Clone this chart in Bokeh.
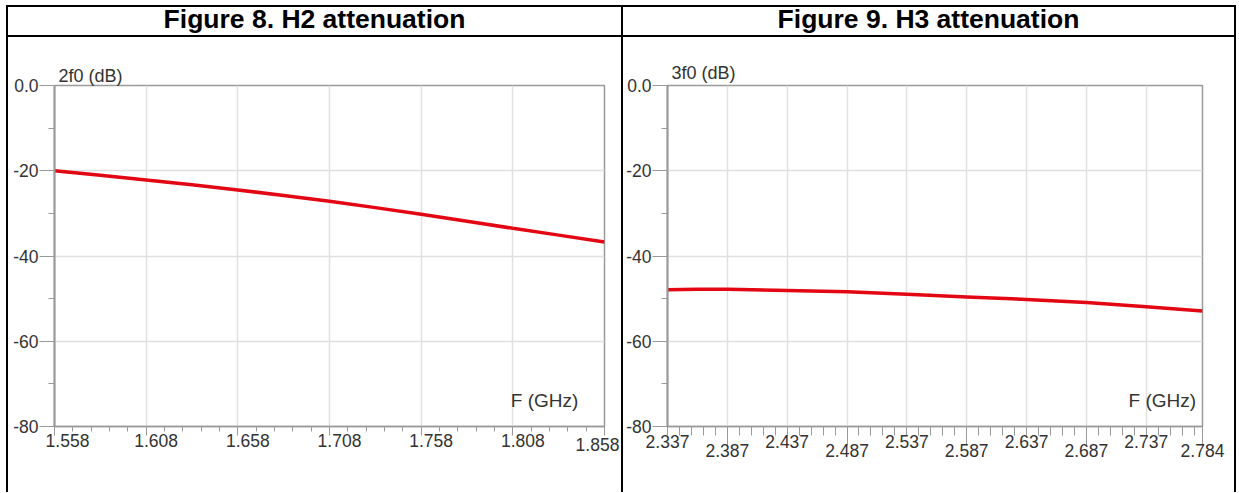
from bokeh.plotting import figure
from bokeh.models import FixedTicker, LinearAxis, Label, Div
from bokeh.layouts import row, column
from bokeh.embed import file_html
from bokeh.resources import INLINE

# ---------------- data ----------------
h2_freq = [1.558, 1.583, 1.608, 1.633, 1.658, 1.683, 1.708, 1.733, 1.758, 1.783, 1.808, 1.833, 1.858]
h2_db = [-20.0, -21.05, -22.15, -23.3, -24.5, -25.8, -27.15, -28.65, -30.2, -31.85, -33.5, -35.1, -36.7]

h3_freq = [2.337, 2.362, 2.387, 2.437, 2.487, 2.537, 2.587, 2.637, 2.687, 2.737, 2.784]
h3_db = [-47.9, -47.8, -47.8, -48.1, -48.4, -49.0, -49.6, -50.2, -50.9, -51.9, -52.9]

h2_ticks = [1.558, 1.608, 1.658, 1.708, 1.758, 1.808, 1.858]
h2_labels = ["1.558", "1.608", "1.658", "1.708", "1.758", "1.808", "1.858"]

h3_ticks = [2.337, 2.387, 2.437, 2.487, 2.537, 2.587, 2.637, 2.687, 2.737, 2.784]
h3_labels = ["2.337", "2.387", "2.437", "2.487", "2.537", "2.587", "2.637", "2.687", "2.737", "2.784"]
h3_low = [2.387, 2.487, 2.587, 2.687, 2.784]

y_ticks = [-80, -60, -40, -20, 0]
y_minor = [-70, -50, -30, -10]
y_labels = ["-80", "-60", "-40", "-20", "0.0"]

titles = ["Figure 8. H2 attenuation", "Figure 9. H3 attenuation"]
y_names = ["2f0 (dB)", "3f0 (dB)"]
x_name = "F (GHz)"

FONT = "Liberation Sans"
LBL = "17.5px"
TXT = "#333333"
AX = "#9a9a9a"
GRID = "#e0e0e0"
RED = "#e30613"


def minor_list(ticks):
    out = []
    for a, b in zip(ticks[:-1], ticks[1:]):
        t = a + 0.01
        while t < b - 0.004:
            out.append(round(t, 3))
            t += 0.01
    return out


def label_axis(p, positions, texts, standoff):
    ax = LinearAxis(ticker=FixedTicker(ticks=positions, minor_ticks=[]),
                    major_label_overrides={pos: t for pos, t in zip(positions, texts)},
                    major_tick_out=0, major_tick_in=0, minor_tick_out=0, minor_tick_in=0,
                    axis_line_color=None, major_tick_line_color=None, minor_tick_line_color=None,
                    major_label_standoff=standoff,
                    major_label_text_font=FONT, major_label_text_font_size=LBL,
                    major_label_text_color=TXT)
    p.add_layout(ax, "below")


def make_chart(freq, db, grid_ticks, major_pos, minor_pos, major_len, minor_len, label_groups,
               yname, w, h, bl, br, bt, bb, xname_pos, yname_standoff):
    p = figure(width=w, height=h, x_range=(grid_ticks[0], grid_ticks[-1]), y_range=(-80, 0),
               output_backend="svg", toolbar_location=None,
               min_border_left=bl, min_border_right=br, min_border_top=bt, min_border_bottom=bb)
    p.background_fill_color = "white"
    p.border_fill_color = "white"
    p.outline_line_color = AX
    p.outline_line_width = 1.5

    p.title.text = yname
    p.title.align = "left"
    p.title.offset = 4
    p.title.standoff = yname_standoff
    p.title.text_font = FONT
    p.title.text_font_size = "18px"
    p.title.text_font_style = "normal"
    p.title.text_color = TXT

    # tick marks only
    xa = p.xaxis[0]
    xa.ticker = FixedTicker(ticks=major_pos, minor_ticks=minor_pos)
    xa.major_label_overrides = {t: "" for t in major_pos}
    xa.major_label_text_font_size = "1px"
    xa.major_label_standoff = 0
    xa.major_tick_out = major_len
    xa.major_tick_in = 0
    xa.minor_tick_out = minor_len
    xa.minor_tick_in = 0
    xa.axis_line_color = AX
    xa.axis_line_width = 1.5
    xa.major_tick_line_color = AX
    xa.minor_tick_line_color = AX

    # tick labels, one row per group
    for positions, texts, standoff in label_groups:
        label_axis(p, positions, texts, standoff)

    ya = p.yaxis[0]
    ya.ticker = FixedTicker(ticks=y_ticks, minor_ticks=y_minor)
    ya.major_label_overrides = {t: l for t, l in zip(y_ticks, y_labels)}
    ya.major_tick_out = 15
    ya.major_tick_in = 0
    ya.minor_tick_out = 6
    ya.minor_tick_in = 0
    ya.axis_line_color = AX
    ya.axis_line_width = 2
    ya.major_tick_line_color = AX
    ya.minor_tick_line_color = AX
    ya.major_label_standoff = 1
    ya.major_label_text_font = FONT
    ya.major_label_text_font_size = LBL
    ya.major_label_text_color = TXT

    p.xgrid.ticker = FixedTicker(ticks=grid_ticks)
    p.ygrid.ticker = FixedTicker(ticks=y_ticks)
    p.xgrid.grid_line_color = GRID
    p.ygrid.grid_line_color = GRID
    p.xgrid.grid_line_width = 1.5
    p.ygrid.grid_line_width = 1.5

    p.line(freq, db, line_color=RED, line_width=3.5)

    p.add_layout(Label(x=xname_pos[0], y=xname_pos[1], text=x_name, text_align="right",
                       text_baseline="middle", text_font=FONT, text_font_size="19px",
                       text_color=TXT))
    return p


H = 455
W1, W2 = 613, 611

# chart 1: labels sit slightly right of their ticks; the last one is pulled left and down
PX1 = 550 / (h2_ticks[-1] - h2_ticks[0])
h2_label_pos = [h2_ticks[0] + 13 / PX1] + [t + 10 / PX1 for t in h2_ticks[1:-1]]
p1 = make_chart(h2_freq, h2_db, h2_ticks,
                h2_ticks, minor_list(h2_ticks), 9, 5,
                [(h2_label_pos, h2_labels[:-1], -2),
                 ([h2_ticks[-1] - 7 / PX1], [h2_labels[-1]], -12)],
                y_names[0], W1, H, 46, 17, 47, H - 47 - 346, (1.8437, -73.8), 0)

# chart 2: staggered labels, long ticks reach down to the lower row
h3_high = [t for t in h3_ticks if t not in h3_low]
h3_high_lbl = [l for t, l in zip(h3_ticks, h3_labels) if t not in h3_low]
h3_low_lbl = [l for t, l in zip(h3_ticks, h3_labels) if t in h3_low]
p2 = make_chart(h3_freq, h3_db, h3_ticks,
                h3_low, minor_list(h3_ticks) + h3_high, 19, 9,
                [(h3_high, h3_high_lbl, -11),
                 (h3_low, h3_low_lbl, -7)],
                y_names[1], W2, H, 43, 32, 48, H - 48 - 341, (2.7787, -74.0), 5)


def bar(w, h):
    return Div(text="", width=w, height=h, margin=0, styles={"background-color": "black"})


TH = 28
tstyle = {"font-family": FONT, "font-size": "26.5px", "font-weight": "bold",
          "text-align": "center", "line-height": "24px", "color": "black"}
t1 = Div(text=titles[0], width=W1, height=TH, margin=0, styles=tstyle)
t2 = Div(text=titles[1], width=W2, height=TH, margin=0, styles=tstyle)

total_w = 2 + W1 + 2 + W2 + 2
layout = column(
    bar(total_w, 2),
    row(bar(2, TH), t1, bar(2, TH), t2, bar(2, TH), spacing=0, margin=0),
    bar(total_w, 2),
    row(bar(2, H), p1, bar(2, H), p2, bar(2, H), spacing=0, margin=0),
    spacing=0, margin=(5, 0, 0, 6),
)

open("out.html", "w").write(file_html(layout, INLINE))
